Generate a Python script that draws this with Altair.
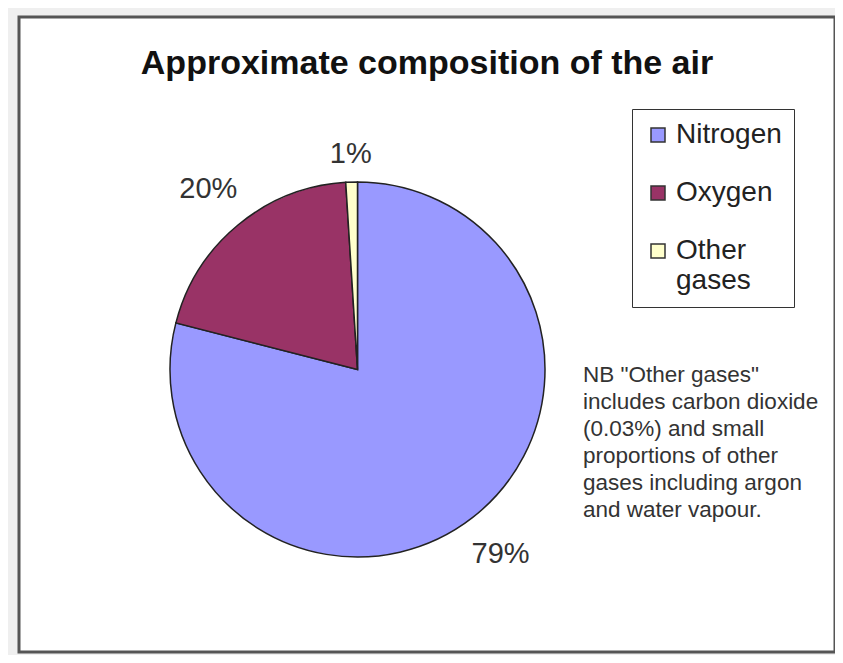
import altair as alt
import pandas as pd

gases = ["Nitrogen", "Oxygen", "Other gases"]
shares = [79, 20, 1]
labels = ["79%", "20%", "1%"]
colors = ["#9999ff", "#993366", "#ffffcc"]
title_text = "Approximate composition of the air"
note_lines = [
    'NB "Other gases"',
    "includes carbon dioxide",
    "(0.03%) and small",
    "proportions of other",
    "gases including argon",
    "and water vapour.",
]

df = pd.DataFrame({"gas": gases, "share": shares, "label": labels,
                   "rank": list(range(len(gases)))})
note_df = pd.DataFrame({"note": ["\n".join(note_lines)]})

FONT = "Liberation Sans"
cx, cy = 338.5, 352.5

pie = alt.Chart(df).mark_arc(radius=187.5, stroke="#222222", strokeWidth=1.5).encode(
    theta=alt.Theta("share:Q", stack=True),
    order=alt.Order("rank:Q"),
    x=alt.value(cx),
    y=alt.value(cy),
    color=alt.Color(
        "gas:N",
        scale=alt.Scale(domain=gases, range=colors),
        legend=alt.Legend(
            title=None,
            orient="none",
            legendX=613,
            legendY=92,
            labelFontSize=28,
            labelFont=FONT,
            labelColor="#222222",
            labelLimit=400,
            symbolType="square",
            symbolSize=196,
            symbolStrokeColor="#333333",
            symbolStrokeWidth=1.5,
            strokeColor="#333333",
            fillColor="white",
            padding=12,
            rowPadding=30,
            labelExpr="datum.label == 'Other gases' ? ['Other', 'gases'] : datum.label",
        ),
    ),
)

# outside-end labels: angle = middle of each slice (clockwise from 12 o'clock);
# distance grows with the horizontal extent of the label, like Excel's placement
pct = alt.Chart(df).transform_joinaggregate(
    total="sum(share)"
).transform_window(
    cum="sum(share)", sort=[alt.SortField("rank")], frame=[None, 0]
).transform_calculate(
    mid="(datum.cum - datum.share / 2) / datum.total * 2 * PI",
    lr="215 + 30 * abs(sin(datum.mid))",
).transform_calculate(
    px=f"{cx} + datum.lr * sin(datum.mid)",
    py=f"{cy} - datum.lr * cos(datum.mid)",
).mark_text(fontSize=29, font=FONT, color="#333333").encode(
    x=alt.X("px:Q", scale=None, axis=None),
    y=alt.Y("py:Q", scale=None, axis=None),
    text="label:N",
)

note = alt.Chart(note_df).mark_text(
    align="left", baseline="top", fontSize=22.5, lineHeight=27,
    font=FONT, color="#333333", lineBreak="\n",
).encode(
    x=alt.value(564),
    y=alt.value(347),
    text="note:N",
)

chart = alt.layer(pie, pct, note).properties(
    width=816,
    height=635,
    padding={"left": 11, "top": 9, "right": 0, "bottom": 3},
    autosize=alt.AutoSizeParams(type="none"),
    background="#efefef",
    title=alt.TitleParams(
        title_text, fontSize=34, font=FONT, fontWeight="bold",
        color="#111111", anchor="middle", dy=68,
    ),
).configure_view(stroke="#555555", strokeWidth=3, fill="white")

chart.save("out.html", embed_options={"renderer": "svg", "actions": False})
